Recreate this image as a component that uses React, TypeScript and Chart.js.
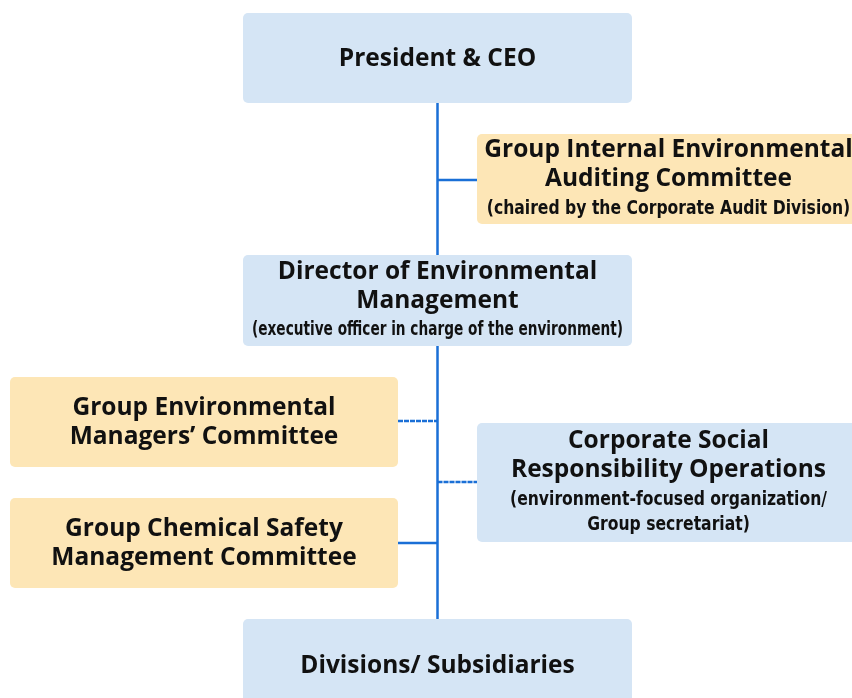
import React, { useEffect, useRef } from 'react';
import { Chart, registerables } from 'chart.js';

Chart.register(...registerables);

// Organisation nodes (coordinates in chart units: x 0–852, y 0–698 top-down)
const nodeTitles: string[][] = [
  ['President & CEO'],
  ['Group Internal Environmental', 'Auditing Committee'],
  ['Director of Environmental', 'Management'],
  ['Group Environmental', 'Managers\u2019 Committee'],
  ['Corporate Social', 'Responsibility Operations'],
  ['Group Chemical Safety', 'Management Committee'],
  ['Divisions/ Subsidiaries'],
];
const nodeSubtitles: string[][] = [
  [],
  ['(chaired by the Corporate Audit Division)'],
  ['(executive officer in charge of the environment)'],
  [],
  ['(environment-focused organization/', 'Group secretariat)'],
  [],
  [],
];
const nodeKinds = ['line', 'committee', 'line', 'committee', 'line', 'committee', 'line'];
const nodeLeft = [243, 477, 243, 10, 477, 10, 243];
const nodeRight = [632, 860, 632, 398, 860, 398, 632];
const nodeTop = [13, 134, 255, 377, 423, 498, 619];
const nodeBottom = [103, 224, 346, 467, 542, 588, 712];

// Connectors
const trunkX = 437.5;
const trunkTop = 103;
const trunkBottom = 619;
const branchFrom = [437.5, 398, 437.5, 398];
const branchTo = [477, 437.5, 477, 437.5];
const branchY = [180, 421, 482, 543];
const branchDotted = [false, true, true, false];

const COLORS: Record<string, string> = {
  line: '#d5e5f5',
  committee: '#fde6b6',
};
const LINK = '#1a6fd6';
const TITLE_FONT = 'bold 24.5px "Open Sans", "Noto Sans", sans-serif';
const SUB_FONT = 'bold 20px "DejaVu Sans Condensed", "DejaVu Sans", sans-serif';
const SUB_REF_TEXT = '(environment-focused organization/';
const SUB_REF_WIDTH = 317;
const TITLE_LH = 29;
const TITLE_SUB_GAP = 29.5;
const SUB_LH = 25.5;
const V_OFFSET = -1.5;
const TEXT_INSET = 9;

const boxPlugin = {
  id: 'orgBoxes',
  afterDatasetsDraw(chart: any) {
    const { ctx, scales } = chart;
    const xs = scales.x;
    const ys = scales.y;
    ctx.save();
    ctx.font = SUB_FONT;
    const squeeze = SUB_REF_WIDTH / ctx.measureText(SUB_REF_TEXT).width;
    const subCap = ctx.measureText('H').actualBoundingBoxAscent;
    ctx.font = TITLE_FONT;
    const titleCap = ctx.measureText('H').actualBoundingBoxAscent;

    for (let i = 0; i < nodeTitles.length; i++) {
      const x0 = xs.getPixelForValue(nodeLeft[i]);
      const x1 = xs.getPixelForValue(nodeRight[i]);
      const y0 = ys.getPixelForValue(nodeTop[i]);
      const y1 = ys.getPixelForValue(nodeBottom[i]);
      ctx.fillStyle = COLORS[nodeKinds[i]];
      ctx.beginPath();
      ctx.roundRect(x0, y0, x1 - x0, y1 - y0, 5);
      ctx.fill();

      const lines: { t: string; sub: boolean }[] = [
        ...nodeTitles[i].map((t) => ({ t, sub: false })),
        ...nodeSubtitles[i].map((t) => ({ t, sub: true })),
      ];
      const offs: number[] = [0];
      for (let k = 1; k < lines.length; k++) {
        const step = lines[k].sub ? (lines[k - 1].sub ? SUB_LH : TITLE_SUB_GAP) : TITLE_LH;
        offs.push(offs[k - 1] + step);
      }
      const span = offs[offs.length - 1];
      const cx = (x0 + x1) / 2;
      const cy = (y0 + y1) / 2 + V_OFFSET;
      const maxW = x1 - x0 - 2 * TEXT_INSET;
      ctx.fillStyle = '#111111';
      ctx.textAlign = 'center';
      ctx.textBaseline = 'alphabetic';
      lines.forEach((ln, k) => {
        const mid = cy - span / 2 + offs[k];
        if (ln.sub) {
          ctx.font = SUB_FONT;
          const w = Math.min(ctx.measureText(ln.t).width * squeeze, maxW);
          ctx.fillText(ln.t, cx, mid + subCap / 2, w);
        } else {
          ctx.font = TITLE_FONT;
          ctx.fillText(ln.t, cx, mid + titleCap / 2);
        }
      });
    }
    ctx.restore();
  },
};

export default function App() {
  const ref = useRef<HTMLCanvasElement | null>(null);
  useEffect(() => {
    document.body.style.margin = '0';
    if (!ref.current) return;
    const datasets: any[] = [
      {
        data: [
          { x: trunkX, y: trunkTop },
          { x: trunkX, y: trunkBottom },
        ],
        borderColor: LINK,
        borderWidth: 2.5,
        showLine: true,
        pointRadius: 0,
      },
      ...branchY.map((y, i) => ({
        data: [
          { x: branchFrom[i], y },
          { x: branchTo[i], y },
        ],
        borderColor: LINK,
        borderWidth: 2.5,
        borderDash: branchDotted[i] ? [5, 1] : [],
        showLine: true,
        pointRadius: 0,
      })),
    ];
    const chart = new Chart(ref.current, {
      type: 'scatter',
      data: { datasets },
      options: {
        animation: false,
        responsive: false,
        devicePixelRatio: 1,
        layout: { padding: 0 },
        plugins: { legend: { display: false }, tooltip: { enabled: false }, title: { display: false } },
        scales: {
          x: { type: 'linear', min: 0, max: 852, display: false },
          y: { type: 'linear', min: 0, max: 698, reverse: true, display: false },
        },
      },
      plugins: [boxPlugin],
    });
    return () => chart.destroy();
  }, []);
  return (
    <div style={{ width: 852, height: 698, background: '#ffffff' }}>
      <canvas ref={ref} width={852} height={698} style={{ display: 'block' }} />
    </div>
  );
}
